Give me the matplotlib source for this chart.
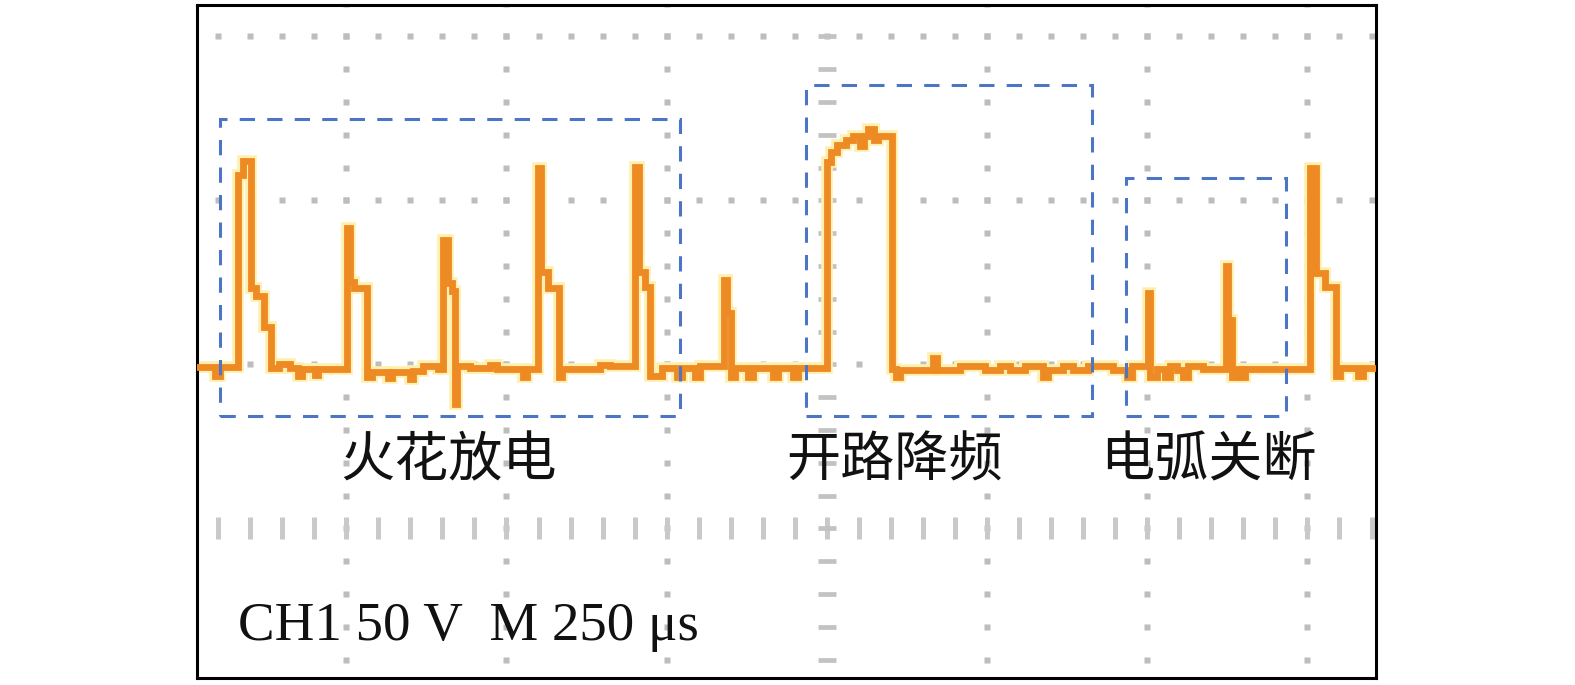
import numpy as np
import matplotlib
matplotlib.use("Agg")
import matplotlib.pyplot as plt
from matplotlib.patches import Rectangle

# waveform: time in us (0 = trigger), voltage in V
# step points (value holds until the next time)
trace_t = [-990, -955, -947, -919, -911, -899, -891, -879, -868, -855, -838, -826, -819, -799, -794,
           -749, -744, -738, -718, -710, -685, -679, -651, -646, -630, -607,
           -599, -591, -585, -581, -577, -557, -526, -515, -474, -468,
           -451, -446, -435, -418, -414, -354, -339,
           -300, -293, -284, -276, -258, -234, -226, -206, -198,
           -161, -156, -150, -144, -123, -116, -84, -77, -53, -45,
           0, 6, 16, 30, 41, 52, 58, 64, 73, 80, 101, 108, 114, 165, 172, 208, 247,
           270, 286, 309, 337, 345, 368, 384, 407, 446, 468, 476,
           501, 505, 515, 527, 535, 546, 556, 563, 587,
           623, 626, 632, 640, 646, 652,
           754, 763, 777, 794, 801, 829, 836, 860]
trace_v = [-0.8, -3.5, -0.8, 57.8, 62.0, 23.3, 20.9, 11.4, -1.1, 0.2, -1.1, -3.5, -1.4, -3.2, -1.4,
           41.6, 25.2, 23.3, -3.8, -2.3, -4.1, -2.3, -4.4, -2.0, -0.5, -1.4,
           38.0, 24.8, 22.4, -12.0, -0.5, -1.1, -0.2, -1.4, -3.8, -1.4,
           59.9, 28.2, 23.3, -3.8, -1.4, -0.2, -0.5,
           60.2, 28.2, 23.6, -3.5, -1.1, -3.8, -1.1, -3.8, -0.5,
           25.8, 15.7, -3.8, -1.1, -3.8, -1.1, -3.8, -1.1, -3.8, -1.1,
           61.7, 64.8, 66.9, 68.4, 69.7, 66.6, 69.7, 71.8, 68.4, 69.7, -1.4, -3.8, -1.7, 2.0, -1.7, -0.5, -1.7,
           -0.5, -1.7, -0.5, -3.8, -1.7, -0.5, -1.7, -0.5, -1.7, -3.8, -0.5,
           21.8, -3.8, -1.4, -3.8, -0.5, -1.7, -3.8, -0.5, -1.4,
           30.0, 13.6, -3.8, -1.4, -3.8, -1.4,
           59.9, 27.9, 23.6, -3.5, -1.1, -3.5, -1.1, -1.1]

# dashed boxes marking the three regions (t0, t1, v0, v1)
box_t0 = [-947, -33, 467]
box_t1 = [-229, 414, 716]
box_v0 = [-15.7, -15.7, -15.7]
box_v1 = [74.9, 85.2, 56.9]

labels = ["火花放电", "开路降频", "电弧关断"]
label_t = [-590, 105, 596]
label_v = -29.5
scale_text = "CH1 50 V  M 250 μs"

fig = plt.figure(figsize=(15.75, 6.85), dpi=100)
ax = fig.add_axes([197 / 1575, 1 - 678 / 685, 1179 / 1575, 673 / 685])
ax.set_xlim(-983, 857)
ax.set_ylim(-95.6, 109.6)
ax.set_xticks([])
ax.set_yticks([])
for s in ax.spines.values():
    s.set_linewidth(2.2)
    s.set_color("black")

# graticule
dot_c = "#bdbdbd"
row_t = np.arange(-950, 851, 50)
for v in [100, 50, 0]:
    ax.plot(row_t, np.full(len(row_t), v), ls="none", marker="s", ms=4.0,
            mec="none", color=dot_c, zorder=1)
col_v = np.arange(-90, 111, 10)
for t in [-750, -500, -250, 250, 500, 750]:
    ax.plot(np.full(len(col_v), t), col_v, ls="none", marker="s", ms=4.0,
            mec="none", color=dot_c, zorder=1)
ax.plot(row_t, np.full(len(row_t), -50), ls="none", marker="|", ms=15.5,
        mew=3.6, color="#c9c9c9", zorder=1)
ax.plot(np.zeros(len(col_v)), col_v, ls="none", marker="_", ms=13,
        mew=3.4, color="#c2c2c2", zorder=1)

# trace with its pale glow
ax.plot(trace_t, trace_v, drawstyle="steps-post", color="#fff0b0", lw=8.4,
        solid_joinstyle="miter", zorder=2)
ax.plot(trace_t, trace_v, drawstyle="steps-post", color="#ee8a24", lw=4.9,
        solid_joinstyle="miter", zorder=3)

for t0, t1, v0, v1 in zip(box_t0, box_t1, box_v0, box_v1):
    ax.add_patch(Rectangle((t0, v0), t1 - t0, v1 - v0, fill=False, ec="#4c75c6",
                           lw=2.2, ls=(0, (5, 4)), zorder=4))

for txt, t in zip(labels, label_t):
    ax.text(t, label_v, txt, ha="center", va="center", fontsize=39,
            family=["Noto Sans CJK SC", "DejaVu Sans"], color="#111111", zorder=5)

ax.text(-919, -84, scale_text, ha="left", va="baseline", fontsize=39.5,
        family=["Liberation Serif", "DejaVu Serif"], color="#111111", zorder=5)

fig.savefig("out.png", dpi=100)
